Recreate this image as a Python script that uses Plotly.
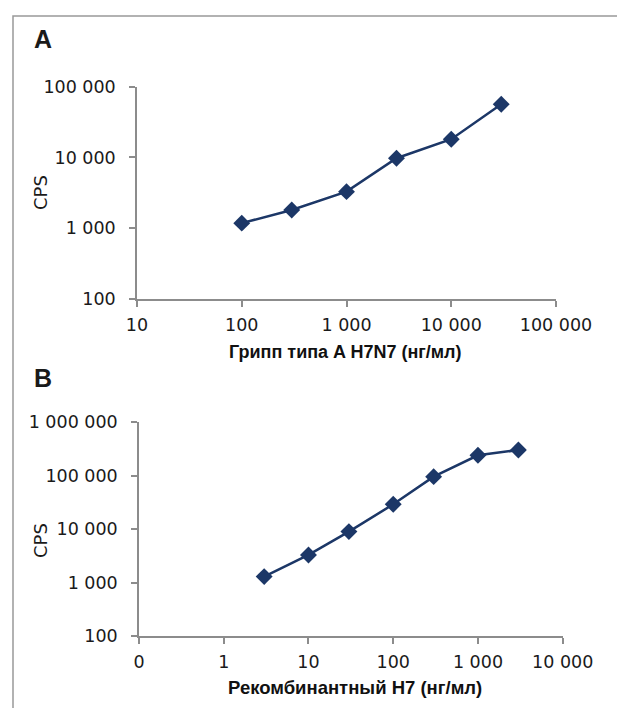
import plotly.graph_objects as go
import math

# Panel A data
a_conc = [100, 300, 1000, 3000, 10000, 30000]
a_cps = [1180, 1810, 3290, 9750, 18100, 56400]
# Panel B data
b_conc = [3, 10, 30, 100, 300, 1000, 3000]
b_cps = [1300, 3300, 9000, 29100, 95500, 239000, 300000]

a_xticks = [10, 100, 1000, 10000, 100000]
a_xlabels = ["10", "100", "1 000", "10 000", "100 000"]
a_yticks = [100, 1000, 10000, 100000]
a_ylabels = ["100", "1 000", "10 000", "100 000"]
b_xticks = [0.1, 1, 10, 100, 1000, 10000]
b_xlabels = ["0", "1", "10", "100", "1 000", "10 000"]
b_yticks = [100, 1000, 10000, 100000, 1000000]
b_ylabels = ["100", "1 000", "10 000", "100 000", "1 000 000"]

W, H = 625, 708
OFF = 8  # page body margin
def px(x): return (x - OFF) / W
def py(y): return 1 - (y - OFF) / H

navy = "#1c3767"
grey = "#8c8c8c"
tickfont = dict(family="DejaVu Sans", size=17.5, color="#1a1a1a")

fig = go.Figure()
fig.add_trace(go.Scatter(x=a_conc, y=a_cps, mode="lines+markers", xaxis="x", yaxis="y",
                         line=dict(color=navy, width=2.5),
                         marker=dict(symbol="diamond", size=13, color=navy), showlegend=False))
fig.add_trace(go.Scatter(x=b_conc, y=b_cps, mode="lines+markers", xaxis="x2", yaxis="y2",
                         line=dict(color=navy, width=2.5),
                         marker=dict(symbol="diamond", size=13, color=navy), showlegend=False))

common = dict(type="log", showgrid=False, zeroline=False, showline=True, linecolor=grey, linewidth=1.5,
              ticks="outside", ticklen=6, tickcolor=grey, tickwidth=1.5, tickfont=tickfont,
              automargin=False)

fig.update_layout(
    template="none",
    width=W, height=H, margin=dict(l=0, r=0, t=0, b=0),
    plot_bgcolor="white", paper_bgcolor="white",
    xaxis=dict(**common, domain=[px(137), px(556)], anchor="y",
               range=[math.log10(a_xticks[0]), math.log10(a_xticks[-1])],
               tickvals=a_xticks, ticktext=a_xlabels, ticklabelstandoff=3),
    yaxis=dict(**common, domain=[py(299), py(86.7)], anchor="x",
               range=[math.log10(a_yticks[0]), math.log10(a_yticks[-1])],
               tickvals=a_yticks, ticktext=a_ylabels, ticklabelstandoff=10),
    xaxis2=dict(**common, domain=[px(139), px(562.7)], anchor="y2",
                range=[math.log10(b_xticks[0]), math.log10(b_xticks[-1])],
                tickvals=b_xticks, ticktext=b_xlabels, ticklabelstandoff=3),
    yaxis2=dict(**common, domain=[py(636.3), py(422)], anchor="x2",
                range=[math.log10(b_yticks[0]), math.log10(b_yticks[-1])],
                tickvals=b_yticks, ticktext=b_ylabels, ticklabelstandoff=10),
)

titlefont = dict(family="Liberation Sans", size=18, color="#111")
ann = [
    dict(text="<b>A</b>", x=px(32), y=py(39), xanchor="left", yanchor="middle",
         font=dict(family="Liberation Sans", size=25, color="#1a1a1a")),
    dict(text="<b>B</b>", x=px(32), y=py(378), xanchor="left", yanchor="middle",
         font=dict(family="Liberation Sans", size=25, color="#1a1a1a")),
    dict(text="CPS", x=px(40), y=py(193), textangle=-90, xanchor="center", yanchor="middle",
         font=dict(family="DejaVu Sans", size=18, color="#1a1a1a")),
    dict(text="CPS", x=px(40), y=py(541), textangle=-90, xanchor="center", yanchor="middle",
         font=dict(family="DejaVu Sans", size=18, color="#1a1a1a")),
    dict(text="<b>Грипп типа A H7N7 (нг/мл)</b>", x=px(346), y=py(352), xanchor="center", yanchor="middle",
         font=titlefont),
    dict(text="<b>Рекомбинантный H7 (нг/мл)</b>", x=px(355), y=py(687), xanchor="center", yanchor="middle",
         font=dict(family="Liberation Sans", size=18.5, color="#111")),
]
for a in ann:
    a.update(xref="paper", yref="paper", showarrow=False)
fig.update_layout(annotations=ann)

fig.update_layout(shapes=[
    dict(type="rect", xref="paper", yref="paper", x0=px(4), x1=px(660), y0=py(740), y1=py(7),
         line=dict(color="#222", width=1.5)),
    dict(type="rect", xref="paper", yref="paper", x0=px(13), x1=px(619), y0=py(740), y1=py(16),
         line=dict(color="#999", width=1.5)),
])

fig.write_html("out.html")
